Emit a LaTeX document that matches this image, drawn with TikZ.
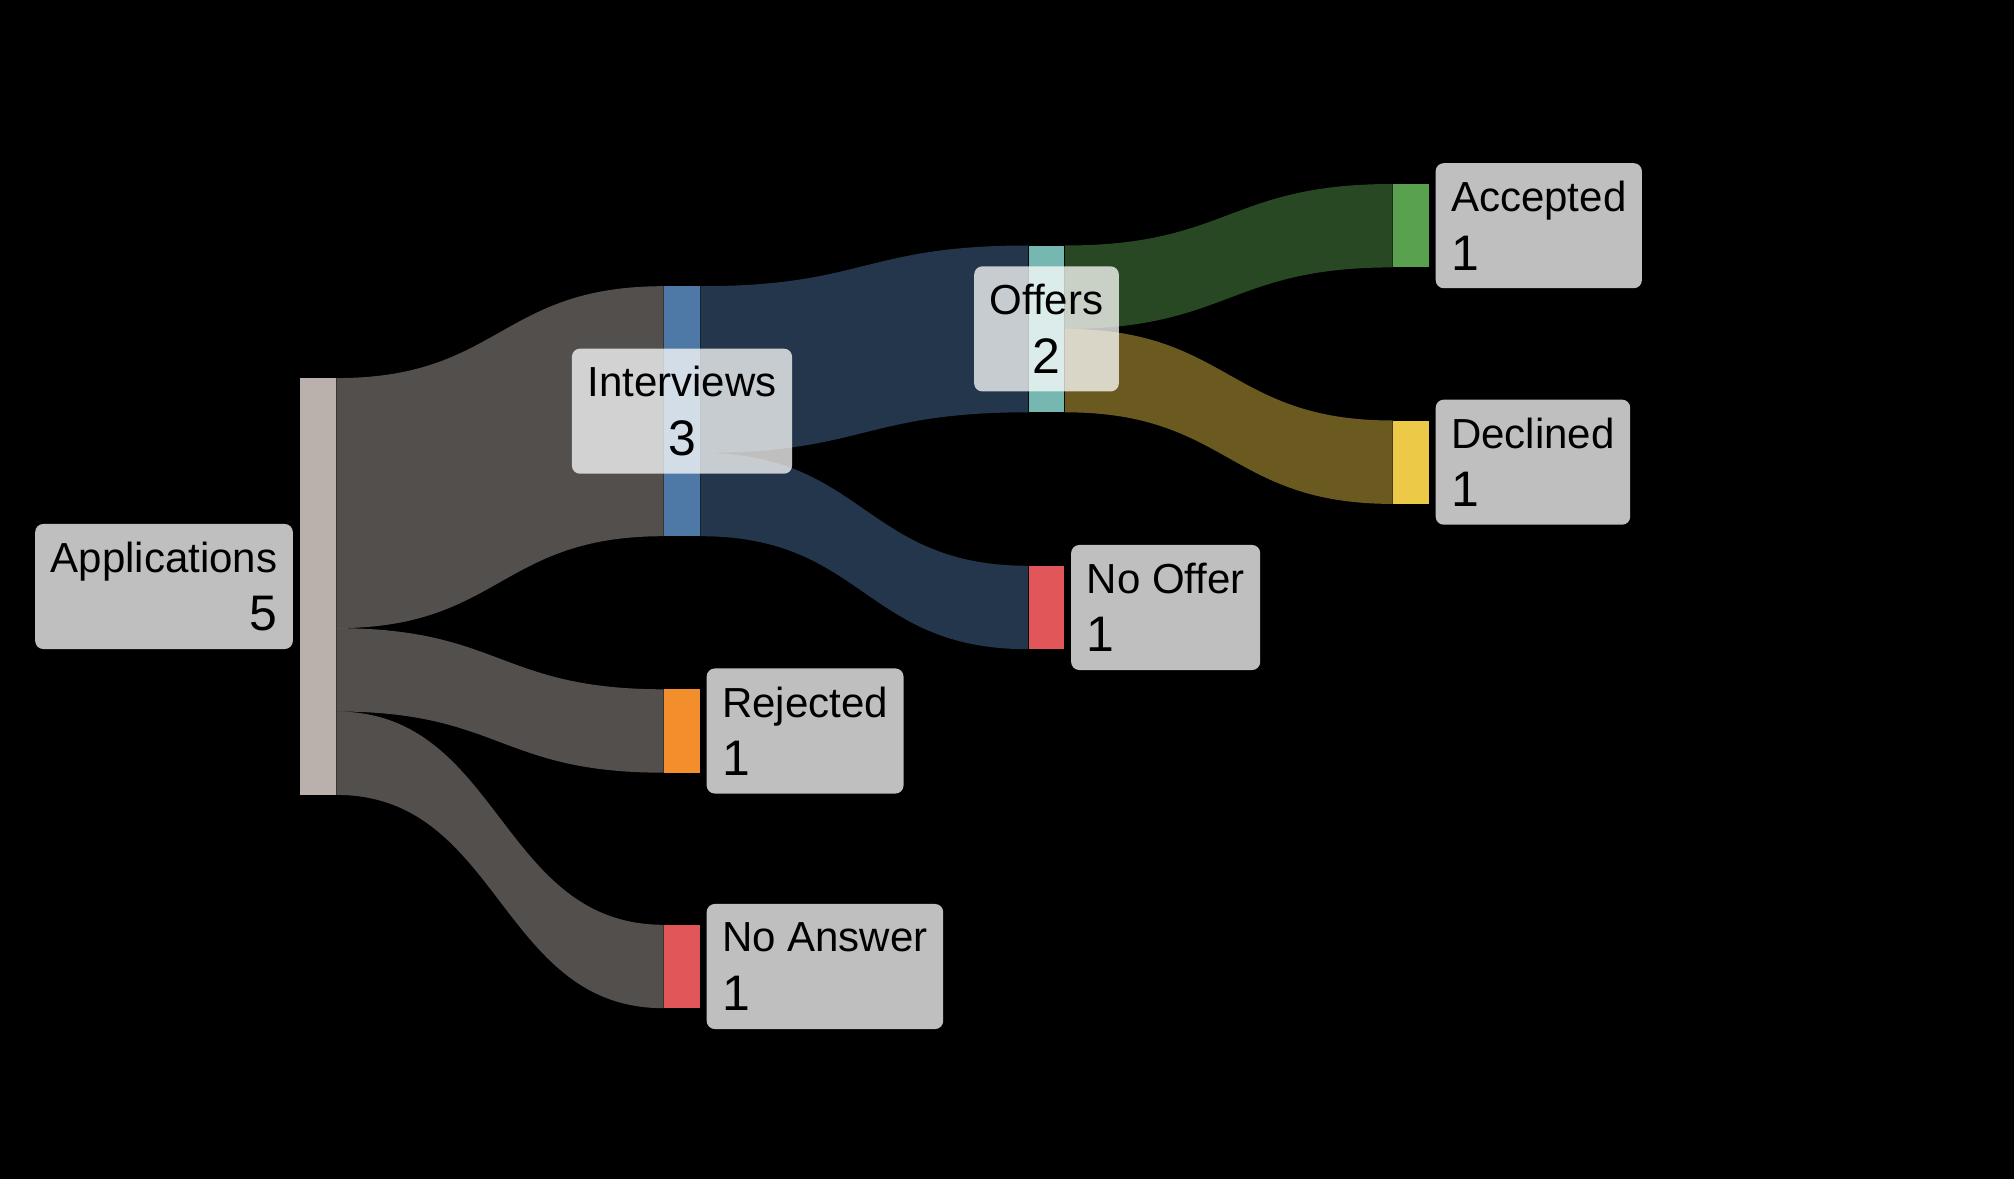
\documentclass[tikz,border=0pt]{standalone}
\usepackage{fontspec}
\setmainfont{Liberation Sans}
\usetikzlibrary{positioning}

\definecolor{appcolor}{HTML}{BAB0AC}
\definecolor{intcolor}{HTML}{4E79A7}
\definecolor{rejcolor}{HTML}{F28E2B}
\definecolor{redcolor}{HTML}{E15759}
\definecolor{offcolor}{HTML}{76B7B2}
\definecolor{acccolor}{HTML}{59A14F}
\definecolor{deccolor}{HTML}{EDC948}

\def\barwidth{0.355cm}
\def\unitheight{0.8335cm}
\def\numfont{\fontsize{14.2pt}{16.6pt}\selectfont}

\begin{document}
\begin{tikzpicture}[x=0.01cm, y=-0.01cm]
    \tikzstyle{stage bar}=[rectangle, inner sep=0pt, minimum width=\barwidth]
    \tikzstyle{flow}=[fill opacity=0.45]
    \tikzstyle{stagebox}=[rectangle, rounded corners=2.3pt, fill=white, fill opacity=0.75, text opacity=1,
        inner xsep=4.41pt, inner ysep=0pt, minimum height=35.56pt, font=\fontsize{11.95pt}{16.6pt}\selectfont]

    % Background
    \fill[black] (0,0) rectangle (2014,1179);
    \useasboundingbox (0,0) rectangle (2014,1179);

    % Draw the stage bars
    \foreach \name/\x/\y/\n/\col in {A/318/586.5/5/appcolor, I/682/411.2/3/intcolor,
        R/682/731/1/rejcolor, N/682/966.5/1/redcolor, O/1046.5/328.9/2/offcolor,
        F/1046.5/607.5/1/redcolor, C/1411/225.7/1/acccolor, D/1411/462.2/1/deccolor}
        \node[stage bar, fill=\col, minimum height=\n*\unitheight] (\name) at (\x,\y) {};

    % Connect the stages with flows
    \foreach \src/\sa/\sb/\dst/\da/\db/\col in {
        A/378.1/628.15/I/286.2/536.2/appcolor,
        A/628.15/711.5/R/689.3/772.7/appcolor,
        A/711.5/794.9/N/924.8/1008.2/appcolor,
        I/286.2/452.9/O/245.5/412.3/intcolor,
        I/452.9/536.2/F/565.8/649.2/intcolor,
        O/245.5/328.9/C/184/267.4/acccolor,
        O/328.9/412.3/D/420.5/503.9/deccolor}
        \fill[flow, \col] (\src.east |- 0,\sa) .. controls +(164.25,0) and +(-164.25,0) .. (\dst.west |- 0,\da)
            -- (\dst.west |- 0,\db) .. controls +(-164.25,0) and +(164.25,0) .. (\src.east |- 0,\sb) -- cycle;

    % Annotate the stages
    \node[stagebox, align=right, left=0.06cm of A] (A-box) {Applications\\{\numfont 5}};
    \node[stagebox, align=center] (I-box) at (I) {Interviews\\{\numfont 3}};
    \node[stagebox, align=center] (O-box) at (O) {Offers\\{\numfont 2}};
    \node[stagebox, align=left, right=0.055cm of R] (R-box) {Rejected\\{\numfont 1}};
    \node[stagebox, align=left, right=0.055cm of N] (N-box) {No Answer\\{\numfont 1}};
    \node[stagebox, align=left, right=0.055cm of F] (F-box) {No Offer\\{\numfont 1}};
    \node[stagebox, align=left, right=0.055cm of C] (C-box) {Accepted\\{\numfont 1}};
    \node[stagebox, align=left, right=0.055cm of D] (D-box) {Declined\\{\numfont 1}};
\end{tikzpicture}
\end{document}
